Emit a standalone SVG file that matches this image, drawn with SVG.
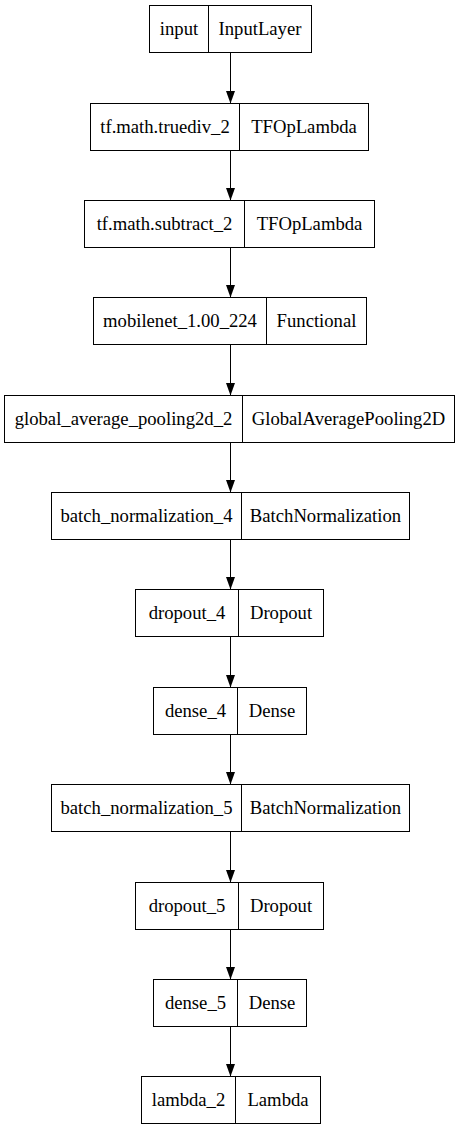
<svg xmlns="http://www.w3.org/2000/svg" width="460" height="1131" viewBox="0 0 460 1131">
  <style>
    .box { fill: #fff; stroke: #000; stroke-width: 1; }
    .sep { stroke: #000; stroke-width: 1; }
    .lbl { font-family: 'Liberation Serif', 'DejaVu Serif', 'Times New Roman', serif; font-size: 18.67px; fill: #000; text-anchor: middle; }
    .edge { stroke: #000; stroke-width: 1; fill: none; marker-end: url(#arrow); }
  </style>
  <defs>
    <marker id="arrow" markerUnits="userSpaceOnUse" markerWidth="13" markerHeight="9.4" refX="13" refY="4.7" orient="auto" viewBox="0 0 13 9.4">
      <path d="M0,0 L13,4.7 L0,9.4 Z" fill="#000"/>
    </marker>
  </defs>
  <rect width="460" height="1131" fill="#fff"/>

  <!-- edges -->
  <g id="edges">
    <path class="edge" d="M230.5,52.5 V103.5"/>
    <path class="edge" d="M230.5,150.5 V200.5"/>
    <path class="edge" d="M230.5,247.5 V297.5"/>
    <path class="edge" d="M230.5,344.5 V395.5"/>
    <path class="edge" d="M230.5,442.5 V492.5"/>
    <path class="edge" d="M230.5,539.5 V589.5"/>
    <path class="edge" d="M230.5,636.5 V687.5"/>
    <path class="edge" d="M230.5,734.5 V784.5"/>
    <path class="edge" d="M230.5,831.5 V882.5"/>
    <path class="edge" d="M230.5,929.5 V979.5"/>
    <path class="edge" d="M230.5,1026.5 V1076.5"/>
  </g>

  <!-- nodes -->
  <g id="input">
    <rect class="box" x="149.5" y="5.5" width="162" height="47"/>
    <line class="sep" x1="208.5" y1="5.5" x2="208.5" y2="52.5"/>
    <text class="lbl" x="179" y="35" font-family="Liberation Serif, serif">input</text>
    <text class="lbl" x="260" y="35" font-family="Liberation Serif, serif">InputLayer</text>
  </g>
  <g id="truediv">
    <rect class="box" x="90.5" y="103.5" width="278" height="47"/>
    <line class="sep" x1="239.5" y1="103.5" x2="239.5" y2="150.5"/>
    <text class="lbl" x="165" y="133">tf.math.truediv_2</text>
    <text class="lbl" x="304" y="133">TFOpLambda</text>
  </g>
  <g id="subtract">
    <rect class="box" x="84.5" y="200.5" width="290" height="47"/>
    <line class="sep" x1="244.5" y1="200.5" x2="244.5" y2="247.5"/>
    <text class="lbl" x="164.5" y="230">tf.math.subtract_2</text>
    <text class="lbl" x="309.5" y="230">TFOpLambda</text>
  </g>
  <g id="mobilenet">
    <rect class="box" x="93.5" y="297.5" width="273" height="47"/>
    <line class="sep" x1="266.5" y1="297.5" x2="266.5" y2="344.5"/>
    <text class="lbl" x="180" y="327">mobilenet_1.00_224</text>
    <text class="lbl" x="316.5" y="327">Functional</text>
  </g>
  <g id="gap">
    <rect class="box" x="4.5" y="395.5" width="450" height="47"/>
    <line class="sep" x1="242.5" y1="395.5" x2="242.5" y2="442.5"/>
    <text class="lbl" x="123.5" y="425">global_average_pooling2d_2</text>
    <text class="lbl" x="348.5" y="425">GlobalAveragePooling2D</text>
  </g>
  <g id="bn4">
    <rect class="box" x="51.5" y="492.5" width="358" height="47"/>
    <line class="sep" x1="241.5" y1="492.5" x2="241.5" y2="539.5"/>
    <text class="lbl" x="146.5" y="522">batch_normalization_4</text>
    <text class="lbl" x="325.5" y="522">BatchNormalization</text>
  </g>
  <g id="dropout4">
    <rect class="box" x="135.5" y="589.5" width="188" height="47"/>
    <line class="sep" x1="238.5" y1="589.5" x2="238.5" y2="636.5"/>
    <text class="lbl" x="187" y="619">dropout_4</text>
    <text class="lbl" x="281" y="619">Dropout</text>
  </g>
  <g id="dense4">
    <rect class="box" x="153.5" y="687.5" width="153" height="47"/>
    <line class="sep" x1="237.5" y1="687.5" x2="237.5" y2="734.5"/>
    <text class="lbl" x="195.5" y="717">dense_4</text>
    <text class="lbl" x="272" y="717">Dense</text>
  </g>
  <g id="bn5">
    <rect class="box" x="51.5" y="784.5" width="358" height="47"/>
    <line class="sep" x1="241.5" y1="784.5" x2="241.5" y2="831.5"/>
    <text class="lbl" x="146.5" y="814">batch_normalization_5</text>
    <text class="lbl" x="325.5" y="814">BatchNormalization</text>
  </g>
  <g id="dropout5">
    <rect class="box" x="135.5" y="882.5" width="188" height="47"/>
    <line class="sep" x1="238.5" y1="882.5" x2="238.5" y2="929.5"/>
    <text class="lbl" x="187" y="912">dropout_5</text>
    <text class="lbl" x="281" y="912">Dropout</text>
  </g>
  <g id="dense5">
    <rect class="box" x="153.5" y="979.5" width="153" height="47"/>
    <line class="sep" x1="237.5" y1="979.5" x2="237.5" y2="1026.5"/>
    <text class="lbl" x="195.5" y="1009">dense_5</text>
    <text class="lbl" x="272" y="1009">Dense</text>
  </g>
  <g id="lambda">
    <rect class="box" x="141.5" y="1076.5" width="179" height="47"/>
    <line class="sep" x1="235.5" y1="1076.5" x2="235.5" y2="1123.5"/>
    <text class="lbl" x="188.5" y="1106">lambda_2</text>
    <text class="lbl" x="278" y="1106">Lambda</text>
  </g>
</svg>
